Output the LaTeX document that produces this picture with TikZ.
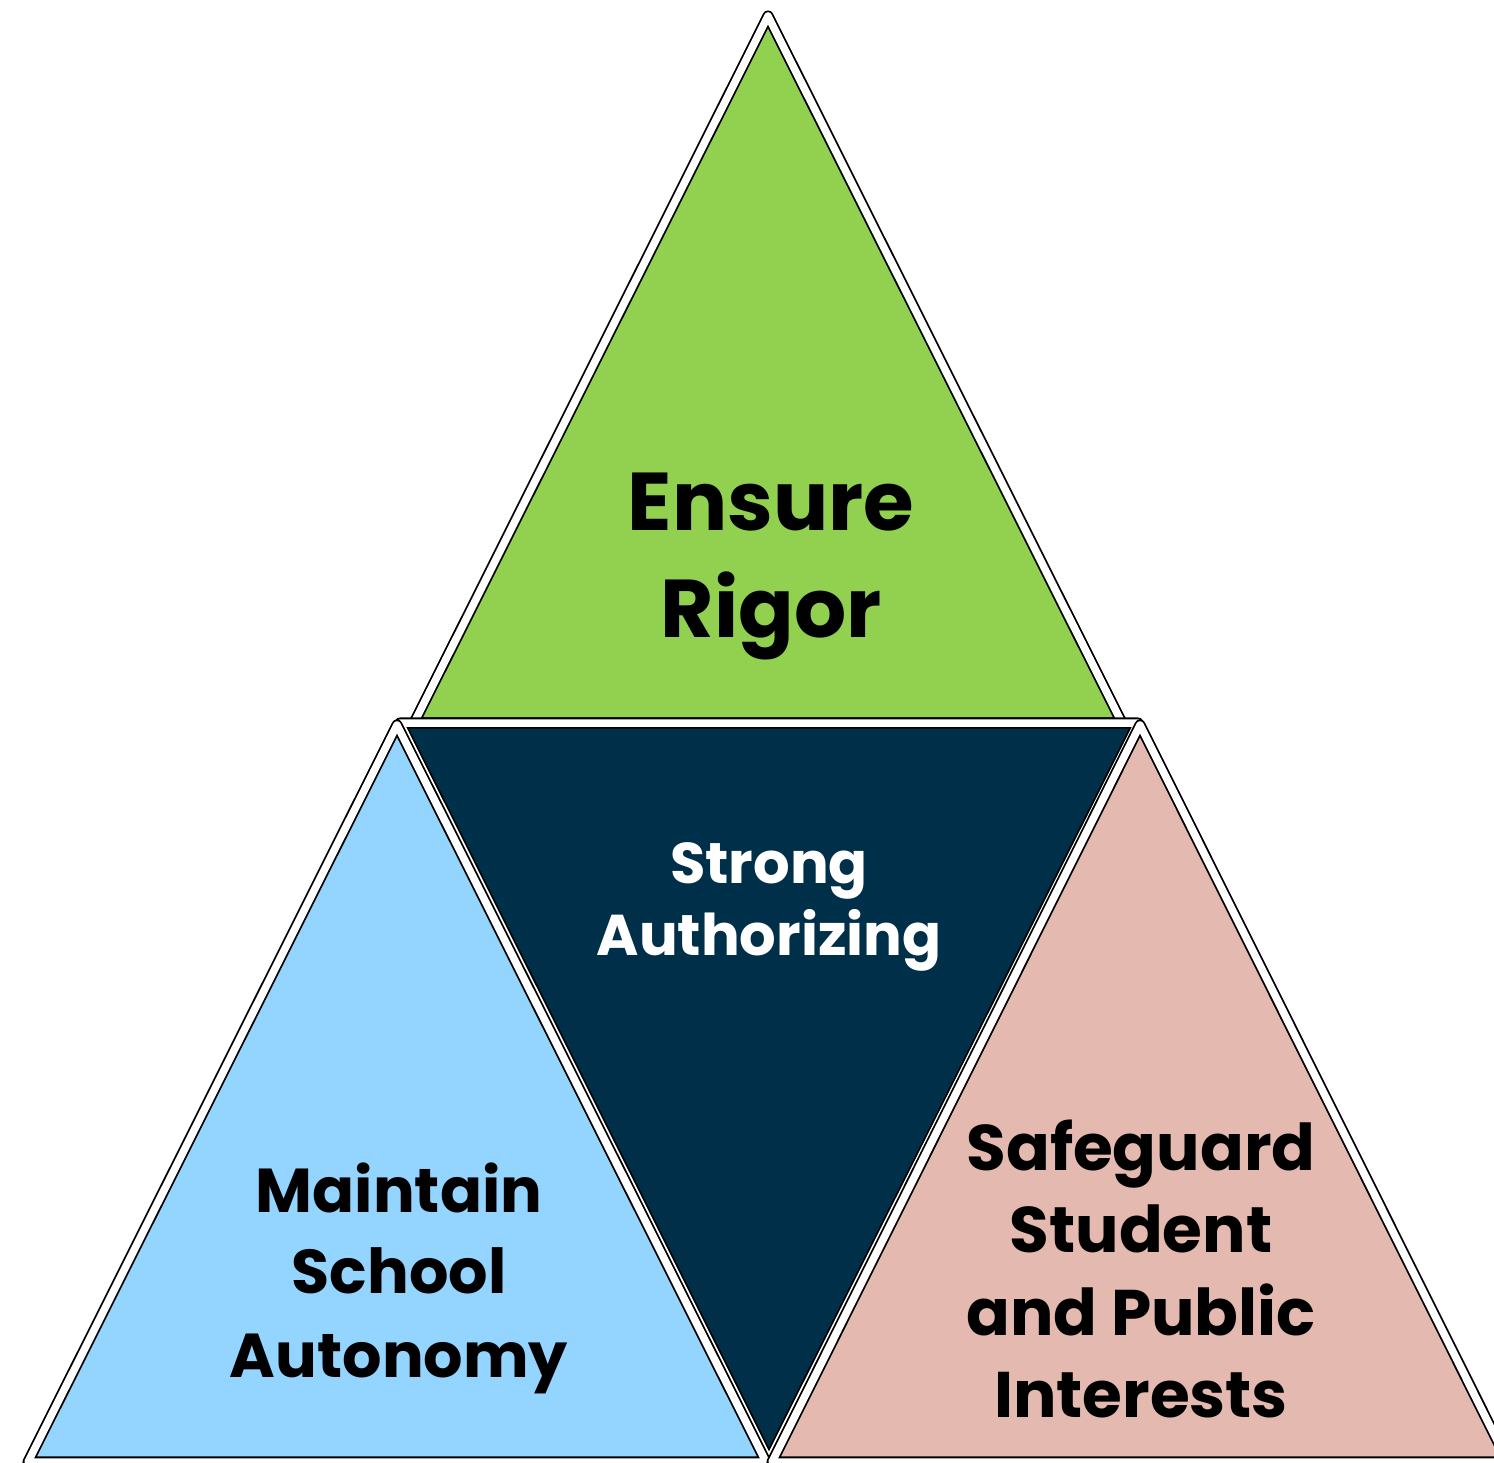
\documentclass[tikz,border=0pt]{standalone}
\usepackage{fontspec}
\setmainfont{Poppins}
\definecolor{cgreen}{HTML}{92D050}
\definecolor{cblue}{HTML}{93D5FF}
\definecolor{cnavy}{HTML}{003049}
\definecolor{cpink}{HTML}{E3B9B0}
\begin{document}
\begin{tikzpicture}[x=1pt,y=-1pt,
  tri/.style={draw=black, line width=1.8pt, double=white, double distance=7.5pt, line join=round},
  lbl/.style={anchor=base, inner sep=0pt, font=\bfseries\fontsize{#1}{#1}\selectfont},
  lbl/.default=60]
\useasboundingbox (0,0) rectangle (1494,1463);
\begin{scope}
\clip (0,0) rectangle (1494,1463);
% top triangle
\coordinate (tA) at (768,16);
\coordinate (tL) at (414,723);
\coordinate (tR) at (1122,723);
\filldraw[tri, fill=cgreen] (tA) -- (tL) -- (tR) -- cycle;
% middle inverted triangle
\coordinate (mL) at (400,723);
\coordinate (mR) at (1138,723);
\coordinate (mB) at (769,1460);
\filldraw[tri, fill=cnavy] (mL) -- (mR) -- (mB) -- cycle;
% bottom left triangle
\coordinate (lA) at (397,725);
\coordinate (lL) at (28,1462);
\coordinate (lR) at (766,1462);
\filldraw[tri, fill=cblue] (lA) -- (lL) -- (lR) -- cycle;
% bottom right triangle
\coordinate (rA) at (1140,725);
\coordinate (rL) at (772,1462);
\coordinate (rR) at (1508,1462);
\filldraw[tri, fill=cpink] (rA) -- (rL) -- (rR) -- cycle;
\end{scope}
% labels
\node[lbl=82] (er1) at (771,530) {Ensure};
\node[lbl=82] (er2) at (771,637) {Rigor};
\node[lbl=57.5, text=white] (sa1) at (769,883) {Strong};
\node[lbl=57.5, text=white] (sa2) at (769,955) {Authorizing};
\node[lbl=62] (ms1) at (399,1212) {Maintain};
\node[lbl=62] (ms2) at (399,1293) {School};
\node[lbl=62] (ms3) at (399,1377) {Autonomy};
\node[lbl=64.5] (sp1) at (1141,1170) {Safeguard};
\node[lbl=64.5] (sp2) at (1141,1252) {Student};
\node[lbl=64.5] (sp3) at (1141,1335) {and Public};
\node[lbl=64.5] (sp4) at (1141,1417) {Interests};
\end{tikzpicture}
\end{document}
